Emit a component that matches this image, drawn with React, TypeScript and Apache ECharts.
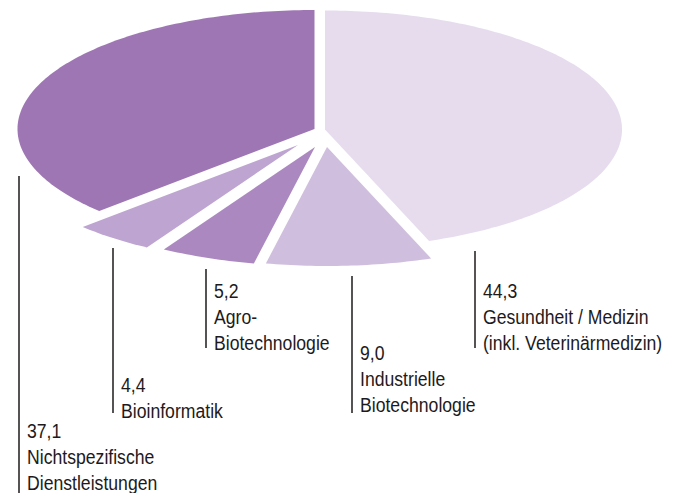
import React, { useEffect, useRef } from "react";
import * as echarts from "echarts";

// ---- data ----
const CATEGORIES = [
  "Gesundheit / Medizin\n(inkl. Veterinärmedizin)",
  "Industrielle\nBiotechnologie",
  "Agro-\nBiotechnologie",
  "Bioinformatik",
  "Nichtspezifische\nDienstleistungen",
];
const VALUES = [44.3, 9.0, 5.2, 4.4, 37.1];

// ---- styles / layout ----
const COLORS = ["#E6DCEE", "#CFBEDD", "#AB89C0", "#BEA4D0", "#9E76B3"];
const APEX = [
  [325, 129.5],
  [327, 147],
  [315, 147],
  [298, 145],
  [314.5, 129],
];
const RX = 297;
const RY = 119;
const LEADER = [
  { x: 475, y1: 251, y2: 348, ty: 277 },
  { x: 352, y1: 276, y2: 413, ty: 339 },
  { x: 206, y1: 269, y2: 348, ty: 277 },
  { x: 113, y1: 248, y2: 413, ty: 371 },
  { x: 19, y1: 176, y2: 493, ty: 417 },
];
const FONT = "'Liberation Sans', Arial, sans-serif";
const FONT_SIZE = 21;
const NARROW = 0.84;
const TEXT_COLOR = "#1E1A1C";

export default function App() {
  const ref = useRef<HTMLDivElement>(null);
  useEffect(() => {
    document.body.style.margin = "0";
    const chart = echarts.init(ref.current!, null, { renderer: "svg" });
    const total = VALUES.reduce((a, b) => a + b, 0);
    const starts: number[] = [];
    let acc = 0;
    VALUES.forEach((v) => {
      starts.push(acc);
      acc += v;
    });
    chart.setOption({
      animation: false,
      backgroundColor: "#ffffff",
      series: [
        {
          type: "custom",
          coordinateSystem: "none",
          data: VALUES.map((v, i) => ({ value: v, name: CATEGORIES[i] })),
          renderItem: (params: any, api: any) => {
            const i = params.dataIndex;
            const v = api.value(0) as number;
            const a0 = (starts[i] / total) * Math.PI * 2;
            const a1 = ((starts[i] + v) / total) * Math.PI * 2;
            const [cx, cy] = APEX[i];
            const pts: number[][] = [[cx, cy]];
            const steps = Math.max(4, Math.ceil(((a1 - a0) * 180) / Math.PI));
            for (let k = 0; k <= steps; k++) {
              const a = a0 + ((a1 - a0) * k) / steps;
              pts.push([cx + RX * Math.sin(a), cy - RY * Math.cos(a)]);
            }
            const L = LEADER[i];
            const label = v.toFixed(1).replace(".", ",") + "\n" + CATEGORIES[i];
            return {
              type: "group",
              children: [
                {
                  type: "polygon",
                  shape: { points: pts },
                  style: { fill: COLORS[i], stroke: null },
                },
                {
                  type: "line",
                  shape: { x1: L.x, y1: L.y1, x2: L.x, y2: L.y2 },
                  style: { stroke: TEXT_COLOR, lineWidth: 1.5 },
                },
                {
                  type: "text",
                  x: L.x + 8,
                  y: L.ty,
                  scaleX: NARROW,
                  style: {
                    text: label,
                    x: 0,
                    y: 0,
                    fontFamily: FONT,
                    fontSize: FONT_SIZE,
                    lineHeight: 26,
                    fill: TEXT_COLOR,
                    verticalAlign: "top",
                    align: "left",
                  },
                },
              ],
            };
          },
        },
      ],
    });
    return () => chart.dispose();
  }, []);
  return <div ref={ref} style={{ width: 676, height: 493 }} />;
}
